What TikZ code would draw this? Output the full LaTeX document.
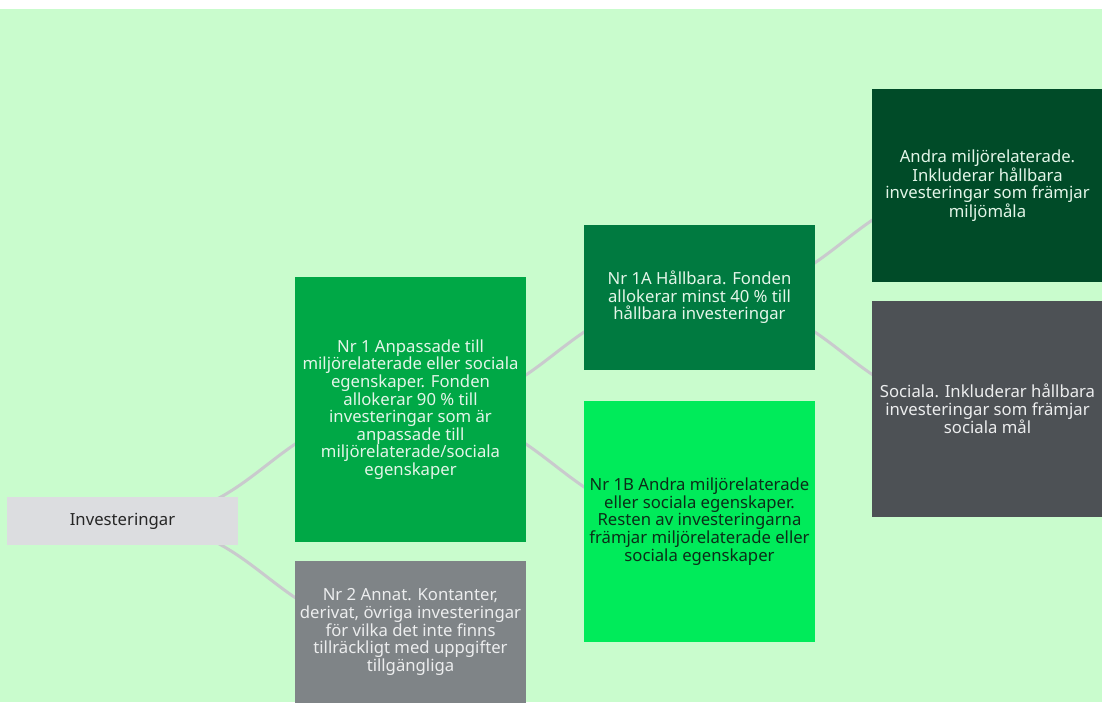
\documentclass[tikz,border=0pt]{standalone}
\usepackage{fontspec}
\setmainfont{Noto Sans}
\usetikzlibrary{backgrounds}
\definecolor{bg}{HTML}{C9FCCD}
\definecolor{linkgrey}{HTML}{C9CACD}
\definecolor{cinv}{HTML}{DCDDE0}
\definecolor{cnra}{HTML}{00A846}
\definecolor{cnrb}{HTML}{7F8487}
\definecolor{cnraa}{HTML}{007A40}
\definecolor{cnrab}{HTML}{00EB5A}
\definecolor{candra}{HTML}{004B28}
\definecolor{csoc}{HTML}{4D5155}
\definecolor{tdark}{HTML}{262626}
\definecolor{tgreen}{HTML}{0B2E18}
\definecolor{tlight}{HTML}{E3F5E8}
\definecolor{tgrey}{HTML}{ECEDEE}
\begin{document}
\begin{tikzpicture}[x=1pt,y=-1pt,
  box/.style={rectangle, inner sep=0pt, minimum width=231pt, align=center,
    font=\fontsize{16.7}{17.6}\selectfont},
  conn/.style={draw=linkgrey, line width=3pt}]
\useasboundingbox (0,0) rectangle (1102,702);
\clip (0,0) rectangle (1102,702);
\node[box, fill=cinv, minimum height=48pt, text=tdark] (inv) at (122.5,521) {Investeringar};
\node[box, fill=cnra, minimum height=265pt, text=tlight] (nr1) at (410.5,409.5)
  {Nr 1 Anpassade till\\miljörelaterade eller sociala\\egenskaper. Fonden\\allokerar 90 \% till\\investeringar som är\\anpassade till\\miljörelaterade/sociala\\egenskaper};
\node[box, fill=cnrb, minimum height=142pt, text=tgrey] (nr2) at (410.5,632)
  {Nr 2 Annat. Kontanter,\\derivat, övriga investeringar\\för vilka det inte finns\\tillräckligt med uppgifter\\tillgängliga};
\node[box, fill=cnraa, minimum height=145pt, text=tlight] (nr1a) at (699.5,297.5)
  {Nr 1A Hållbara. Fonden\\allokerar minst 40 \% till\\hållbara investeringar};
\node[box, fill=cnrab, minimum height=241pt, text=tgreen] (nr1b) at (699.5,521.5)
  {Nr 1B Andra miljörelaterade\\eller sociala egenskaper.\\Resten av investeringarna\\främjar miljörelaterade eller\\sociala egenskaper};
\node[box, fill=candra, minimum height=193pt, text=tlight] (andra) at (987.5,185.5)
  {Andra miljörelaterade.\\Inkluderar hållbara\\investeringar som främjar\\miljömåla};
\node[box, fill=csoc, minimum height=216pt, text=tgrey] (soc) at (987.5,409)
  {Sociala. Inkluderar hållbara\\investeringar som främjar\\sociala mål};
\begin{scope}[on background layer]
  \fill[white] (0,0) rectangle (1102,702);
  \fill[bg] (0,9) rectangle (1102,702);
  \draw[conn] (inv.center) .. controls +(144,0) and +(-144,0) .. (nr1.center);
  \draw[conn] (inv.center) .. controls +(144,0) and +(-144,0) .. (nr2.center);
  \draw[conn] (nr1.center) .. controls +(144,0) and +(-144,0) .. (nr1a.center);
  \draw[conn] (nr1.center) .. controls +(144,0) and +(-144,0) .. (nr1b.center);
  \draw[conn] (nr1a.center) .. controls +(144,0) and +(-144,0) .. (andra.center);
  \draw[conn] (nr1a.center) .. controls +(144,0) and +(-144,0) .. (soc.center);
\end{scope}
\end{tikzpicture}
\end{document}
